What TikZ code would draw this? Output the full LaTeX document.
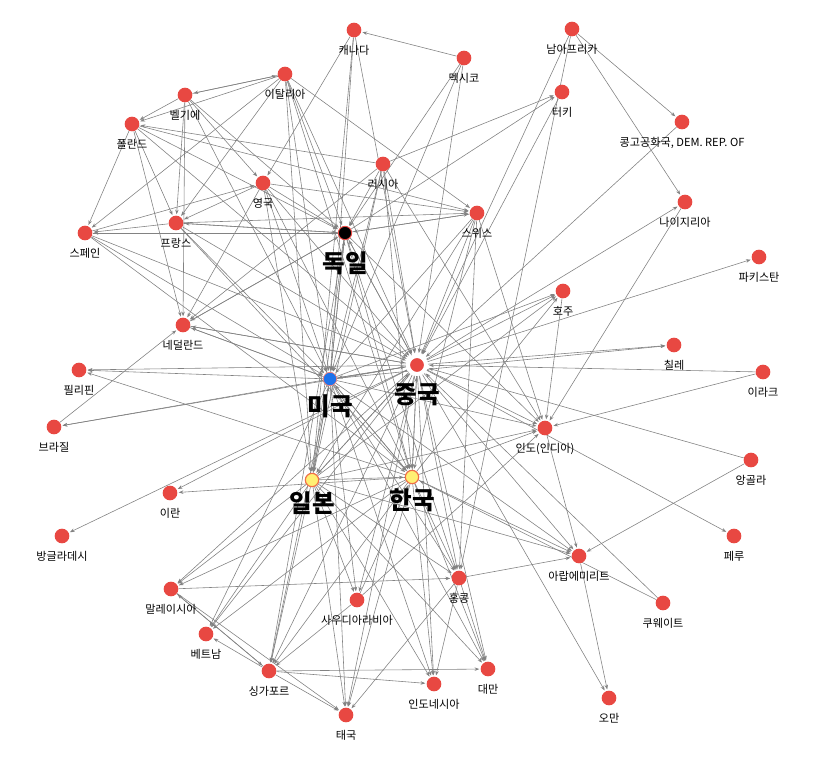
\documentclass[tikz,border=0pt]{standalone}
\usepackage{fontspec}
\setmainfont{Noto Sans CJK KR}
\usetikzlibrary{arrows.meta, backgrounds}
\definecolor{NodeRed}{RGB}{232,72,66}
\definecolor{UsaBlue}{RGB}{30,115,235}
\definecolor{HubYellow}{RGB}{255,240,115}
\definecolor{HubRing}{RGB}{240,110,70}
\definecolor{LinkGray}{RGB}{130,130,130}

\tikzset{
  country/.style={circle, fill=NodeRed, minimum size=4.4mm, inner sep=0pt},
  cname/.style={font=\fontsize{9.5}{9.5}\selectfont, inner sep=0pt, yshift=-2.2mm},
  hubname/.style={font=\fontsize{21}{21}\selectfont\bfseries, inner sep=0pt},
  link/.style={draw=LinkGray, line width=0.5pt, -{Stealth[length=4pt,width=3pt]}, shorten >=1pt},
}

\begin{document}
\begin{tikzpicture}[x=0.3mm, y=-0.3mm]
  \useasboundingbox (0,0) rectangle (813,764);

  % countries around the hubs
  \foreach \n/\x/\y/\t in
    {can/354/30/캐나다, mex/464/58/멕시코, saf/572/29/남아프리카, tur/562/92/터키,
     cog/682/122/{콩고공화국, DEM. REP. OF}, nga/685/202/나이지리아, pak/759/257/파키스탄,
     aus/563/291/호주, chl/674/345/칠레, irq/763/372/이라크, ind/545/428/인도(인디아),
     ago/751/460/앙골라, per/734/536/페루, are/579/556/아랍에미리트, kwt/663/603/쿠웨이트,
     omn/609/698/오만, twn/488/669/대만, idn/434/684/인도네시아, hkg/459/578/홍콩,
     sau/357/600/사우디아라비아, tha/346/715/태국, sgp/269/671/싱가포르, vnm/206/634/베트남,
     mys/171/589/말레이시아, bgd/62/536/방글라데시, irn/170/493/이란, bra/54/427/브라질,
     phl/79/370/필리핀, nld/183/325/네덜란드, esp/85/233/스페인, fra/176/223/프랑스,
     pol/132/124/폴란드, bel/185/95/벨기에, ita/285/74/이탈리아, gbr/263/183/영국,
     rus/383/164/러시아, che/477/213/스위스}
  {
    \node[country, label={[cname]below:\t}] (\n) at (\x,\y) {};
  }

  % hubs
  \node[country, fill=black, draw=NodeRed, line width=0.8pt, minimum size=4mm,
        label={[hubname, yshift=-3.4mm]below:독일}] (deu) at (345,233) {};
  \node[country, fill=UsaBlue, draw=NodeRed!70, line width=0.6pt, minimum size=4mm,
        label={[hubname, yshift=-2.5mm]below:미국}] (usa) at (330,379) {};
  \node[country, draw=white, line width=3.4pt, minimum size=5.4mm,
        label={[hubname, yshift=-2.2mm]below:중국}] (chn) at (417,365) {};
  \node[country, fill=HubYellow, draw=HubRing, line width=1pt, minimum size=4mm,
        label={[hubname, yshift=-1.4mm]below:일본}] (jpn) at (312,480) {};
  \node[country, fill=HubYellow, draw=HubRing, line width=1pt, minimum size=4mm,
        label={[hubname, yshift=-1.3mm]below:한국}] (kor) at (412,477) {};

  % trade links
  \begin{scope}[on background layer]
    \foreach \a/\b in
      {mex/can, can/usa, can/chn, can/gbr, can/jpn, mex/usa, mex/chn, mex/deu,
       bel/ita, ita/bel, bel/pol, bel/fra, bel/gbr, bel/deu, bel/nld, bel/usa,
       ita/deu, ita/fra, ita/esp, ita/che, ita/usa, ita/chn, ita/pol, ita/kor, ita/jpn,
       pol/deu, pol/fra, pol/esp, pol/nld, pol/chn, pol/che,
       rus/pol, rus/tur, rus/deu, rus/chn, rus/kor, rus/nld, rus/jpn, rus/usa, rus/ind,
       gbr/deu, gbr/fra, gbr/che, gbr/nld, gbr/usa, gbr/chn, gbr/jpn, gbr/kor,
       esp/deu, esp/gbr, esp/usa, esp/chn, esp/kor, fra/esp, deu/esp,
       fra/deu, fra/che, fra/usa, fra/chn, fra/kor, deu/fra,
       deu/usa, deu/chn, deu/nld, deu/che, deu/tur, deu/ind, deu/kor, deu/jpn,
       deu/hkg, deu/sgp,
       che/deu, che/usa, che/chn, che/ind, che/hkg, che/jpn, che/kor,
       nld/deu, usa/nld, chn/nld, bra/nld, nld/usa, nld/chn, usa/deu, chn/deu,
       chn/bra, usa/bra, chn/phl, usa/phl, kor/phl, chn/irn, kor/irn, chn/bgd,
       saf/chn, saf/cog, saf/nga, saf/hkg, tur/chn, cog/chn, chn/nga, nga/ind, chn/pak,
       chn/aus, jpn/aus, kor/aus, usa/aus, aus/ind,
       chn/chl, usa/chl, irq/chn, irq/ind, ago/chn, ago/are, chn/per,
       chn/ind, usa/ind, kor/ind, jpn/ind,
       ind/are, chn/are, jpn/are, kor/are, usa/are, hkg/are, are/omn, chn/omn,
       kwt/chn, kwt/kor,
       chn/hkg, kor/hkg, jpn/hkg, usa/hkg, mys/hkg, hkg/twn, hkg/idn,
       sgp/twn, chn/twn, jpn/twn, usa/twn, kor/twn,
       sgp/idn, chn/idn, jpn/idn, kor/idn, usa/idn,
       chn/tha, jpn/tha, usa/tha, mys/tha, sgp/tha, hkg/tha, kor/tha,
       chn/sgp, jpn/sgp, usa/sgp, mys/sgp, sau/sgp, kor/sgp, sgp/vnm, sgp/mys,
       chn/vnm, kor/vnm, jpn/vnm, usa/vnm, chn/mys, jpn/mys, kor/mys,
       usa/sau, chn/sau, jpn/sau, sau/kor, sau/ind,
       usa/chn, chn/usa, usa/jpn, jpn/usa, kor/usa, usa/kor,
       chn/kor, kor/chn, chn/jpn, jpn/chn, jpn/kor}
    {
      \draw[link] (\a) -- (\b);
    }
  \end{scope}
\end{tikzpicture}
\end{document}
